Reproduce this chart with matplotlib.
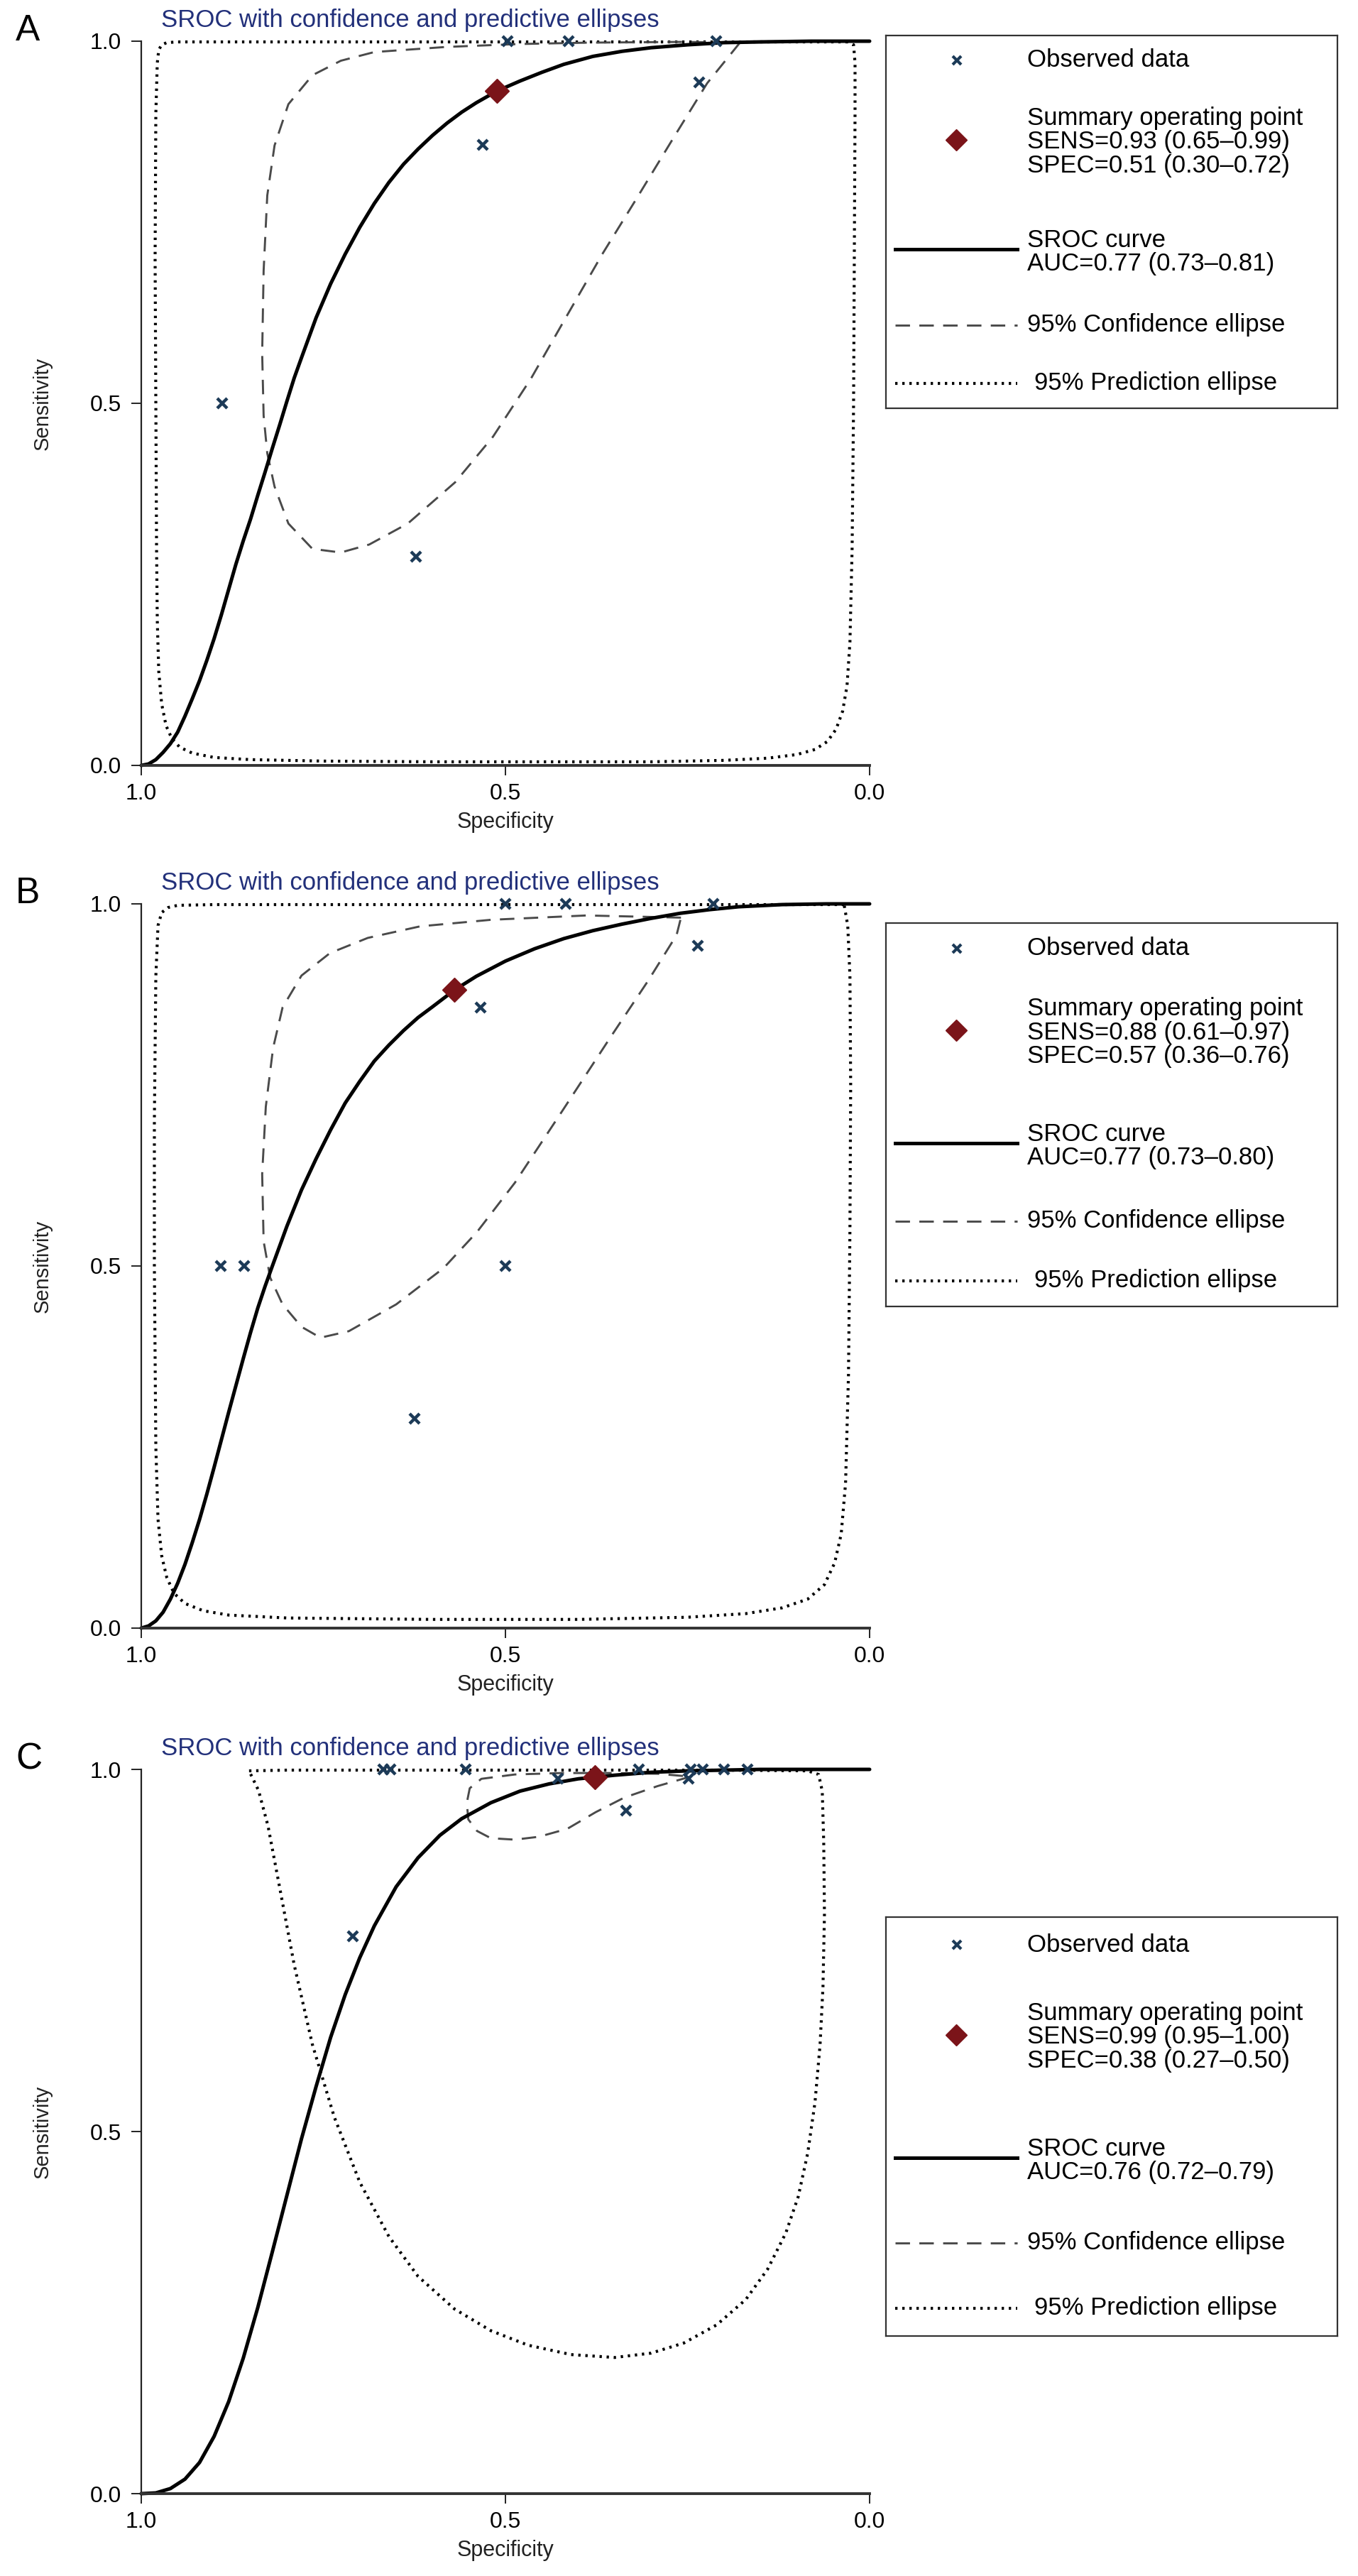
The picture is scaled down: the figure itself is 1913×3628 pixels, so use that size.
import matplotlib
matplotlib.use("Agg")
import matplotlib.pyplot as plt

W, H, DPI = 1913, 3628, 100
plt.rcParams['font.family'] = ['Liberation Sans', 'DejaVu Sans']

# ---------------- data ----------------
panel_labels = ["A", "B", "C"]
title_text = "SROC with confidence and predictive ellipses"
tick_vals = [1.0, 0.5, 0.0]
tick_labels = ["1.0", "0.5", "0.0"]

# Panel A
A_obs_spec = [0.889, 0.531, 0.623, 0.234, 0.497, 0.413, 0.211]
A_obs_sens = [0.500, 0.857, 0.288, 0.943, 1.000, 1.000, 1.000]
A_sum_spec, A_sum_sens = 0.512, 0.931
A_sroc_spec = [1.0, 0.99, 0.98, 0.97, 0.96, 0.95, 0.94, 0.93, 0.92, 0.91, 0.90, 0.89, 0.88, 0.87,
               0.86, 0.85, 0.84, 0.83, 0.82, 0.81, 0.80, 0.79, 0.78, 0.76, 0.74, 0.72, 0.70, 0.68,
               0.66, 0.64, 0.62, 0.60, 0.58, 0.56, 0.54, 0.512, 0.48, 0.45, 0.42, 0.38, 0.34, 0.30,
               0.25, 0.20, 0.15, 0.08, 0.0]
A_sroc_sens = [0.0, 0.002, 0.008, 0.018, 0.030, 0.046, 0.068, 0.092, 0.117, 0.145, 0.175, 0.208,
               0.243, 0.278, 0.310, 0.340, 0.373, 0.405, 0.438, 0.470, 0.503, 0.535, 0.563, 0.618,
               0.665, 0.706, 0.743, 0.776, 0.805, 0.830, 0.851, 0.870, 0.887, 0.902, 0.915, 0.931,
               0.945, 0.957, 0.968, 0.979, 0.986, 0.991, 0.995, 0.998, 0.999, 1.0, 1.0]
A_conf_spec = [0.178, 0.223, 0.269, 0.321, 0.367, 0.419, 0.465, 0.517, 0.569, 0.634, 0.687,
               0.726, 0.765, 0.798, 0.817, 0.827, 0.832, 0.834, 0.832, 0.827, 0.817, 0.798,
               0.765, 0.726, 0.680, 0.582, 0.484, 0.386, 0.256, 0.178]
A_conf_sens = [0.998, 0.942, 0.867, 0.781, 0.706, 0.615, 0.534, 0.454, 0.391, 0.334, 0.305,
               0.294, 0.299, 0.334, 0.385, 0.431, 0.483, 0.569, 0.683, 0.787, 0.856, 0.913,
               0.953, 0.973, 0.985, 0.992, 0.996, 0.998, 0.999, 0.998]
A_pred_spec = [0.030, 0.20, 0.50, 0.80, 0.95, 0.965, 0.972, 0.976, 0.978, 0.980, 0.981, 0.980,
               0.979, 0.978, 0.976, 0.972, 0.966, 0.958, 0.947, 0.930, 0.900, 0.850, 0.750, 0.60,
               0.45, 0.30, 0.20, 0.14, 0.10, 0.075, 0.058, 0.046, 0.037, 0.031, 0.027, 0.024,
               0.022, 0.021, 0.020, 0.020, 0.022, 0.030]
A_pred_sens = [0.999, 0.999, 0.999, 0.999, 0.999, 0.998, 0.995, 0.988, 0.970, 0.900, 0.700, 0.500,
               0.300, 0.200, 0.130, 0.085, 0.055, 0.037, 0.025, 0.017, 0.011, 0.008, 0.006, 0.005,
               0.005, 0.005, 0.007, 0.010, 0.015, 0.022, 0.033, 0.050, 0.075, 0.110, 0.170, 0.300,
               0.500, 0.700, 0.900, 0.970, 0.995, 0.999]
A_legend = ["SENS=0.93 (0.65\u20130.99)", "SPEC=0.51 (0.30\u20130.72)", "AUC=0.77 (0.73\u20130.81)"]

# Panel B
B_obs_spec = [0.891, 0.859, 0.500, 0.625, 0.534, 0.236, 0.500, 0.417, 0.214]
B_obs_sens = [0.500, 0.500, 0.500, 0.289, 0.857, 0.942, 1.000, 1.000, 1.000]
B_sum_spec, B_sum_sens = 0.570, 0.881
B_sroc_spec = [1.0, 0.99, 0.98, 0.97, 0.96, 0.95, 0.94, 0.93, 0.92, 0.91, 0.90, 0.89, 0.88, 0.87,
               0.86, 0.85, 0.84, 0.83, 0.82, 0.80, 0.78, 0.76, 0.74, 0.72, 0.70, 0.68, 0.66, 0.64,
               0.62, 0.60, 0.57, 0.54, 0.50, 0.46, 0.42, 0.38, 0.34, 0.30, 0.26, 0.22, 0.18, 0.12,
               0.06, 0.0]
B_sroc_sens = [0.0, 0.003, 0.010, 0.022, 0.040, 0.062, 0.088, 0.118, 0.150, 0.185, 0.222, 0.260,
               0.298, 0.335, 0.372, 0.408, 0.442, 0.472, 0.500, 0.555, 0.605, 0.648, 0.688, 0.725,
               0.755, 0.783, 0.805, 0.825, 0.843, 0.858, 0.881, 0.900, 0.921, 0.938, 0.952, 0.963,
               0.972, 0.980, 0.987, 0.992, 0.996, 0.999, 1.0, 1.0]
B_conf_spec = [0.259, 0.389, 0.520, 0.617, 0.689, 0.741, 0.780, 0.806, 0.819, 0.829, 0.834,
               0.832, 0.823, 0.806, 0.780, 0.754, 0.715, 0.650, 0.585, 0.539, 0.487, 0.422,
               0.357, 0.304, 0.265, 0.259]
B_conf_sens = [0.981, 0.984, 0.978, 0.969, 0.953, 0.932, 0.901, 0.857, 0.801, 0.720, 0.627,
               0.534, 0.484, 0.447, 0.416, 0.401, 0.410, 0.447, 0.497, 0.547, 0.615, 0.714,
               0.814, 0.894, 0.957, 0.981]
B_pred_spec = [0.035, 0.10, 0.50, 0.90, 0.950, 0.963, 0.972, 0.977, 0.980, 0.982, 0.982, 0.980,
               0.977, 0.972, 0.965, 0.955, 0.940, 0.915, 0.880, 0.800, 0.600, 0.400, 0.250, 0.170,
               0.120, 0.085, 0.062, 0.048, 0.039, 0.033, 0.029, 0.027, 0.026, 0.027, 0.030, 0.035]
B_pred_sens = [0.999, 0.999, 0.999, 0.999, 0.998, 0.995, 0.988, 0.970, 0.900, 0.700, 0.500, 0.250,
               0.150, 0.100, 0.070, 0.048, 0.034, 0.024, 0.018, 0.014, 0.012, 0.012, 0.015, 0.020,
               0.028, 0.040, 0.060, 0.090, 0.130, 0.200, 0.350, 0.550, 0.750, 0.900, 0.970, 0.999]
B_legend = ["SENS=0.88 (0.61\u20130.97)", "SPEC=0.57 (0.36\u20130.76)", "AUC=0.77 (0.73\u20130.80)"]

# Panel C
C_obs_spec = [0.668, 0.658, 0.555, 0.428, 0.317, 0.334, 0.249, 0.246, 0.229, 0.200, 0.168, 0.710]
C_obs_sens = [1.000, 1.000, 1.000, 0.987, 1.000, 0.943, 0.987, 1.000, 1.000, 1.000, 1.000, 0.770]
C_sum_spec, C_sum_sens = 0.377, 0.989
C_sroc_spec = [1.0, 0.98, 0.96, 0.94, 0.92, 0.90, 0.88, 0.86, 0.84, 0.82, 0.80, 0.78, 0.76, 0.74,
               0.72, 0.70, 0.68, 0.65, 0.62, 0.59, 0.56, 0.52, 0.48, 0.44, 0.40, 0.35, 0.30, 0.25,
               0.15, 0.0]
C_sroc_sens = [0.0, 0.001, 0.007, 0.020, 0.043, 0.079, 0.127, 0.187, 0.257, 0.334, 0.412, 0.490,
               0.562, 0.630, 0.689, 0.740, 0.784, 0.838, 0.878, 0.909, 0.932, 0.954, 0.970, 0.980,
               0.987, 0.992, 0.996, 0.998, 1.0, 1.0]
C_conf_spec = [0.246, 0.291, 0.337, 0.376, 0.415, 0.454, 0.487, 0.520, 0.539, 0.551, 0.553,
               0.549, 0.533, 0.487, 0.422, 0.357, 0.291, 0.246]
C_conf_sens = [0.990, 0.977, 0.961, 0.941, 0.918, 0.907, 0.903, 0.905, 0.915, 0.931, 0.954,
               0.974, 0.987, 0.993, 0.995, 0.995, 0.994, 0.990]
C_pred_spec = [0.852, 0.80, 0.60, 0.40, 0.20, 0.085, 0.070, 0.065, 0.063, 0.062, 0.064, 0.068,
               0.075, 0.085, 0.098, 0.115, 0.14, 0.17, 0.21, 0.255, 0.30, 0.35, 0.41, 0.469, 0.52,
               0.57, 0.62, 0.66, 0.70, 0.735, 0.765, 0.79, 0.81, 0.826, 0.839, 0.852]
C_pred_sens = [0.998, 0.999, 0.999, 0.999, 0.999, 0.998, 0.993, 0.970, 0.900, 0.800, 0.700, 0.620,
               0.540, 0.470, 0.410, 0.360, 0.310, 0.268, 0.233, 0.208, 0.194, 0.188, 0.192, 0.205,
               0.225, 0.255, 0.300, 0.355, 0.430, 0.520, 0.620, 0.730, 0.837, 0.922, 0.971, 0.998]
C_legend = ["SENS=0.99 (0.95\u20131.00)", "SPEC=0.38 (0.27\u20130.50)", "AUC=0.76 (0.72\u20130.79)"]

panels = [
    dict(obs=(A_obs_spec, A_obs_sens), summ=(A_sum_spec, A_sum_sens), sroc=(A_sroc_spec, A_sroc_sens),
         conf=(A_conf_spec, A_conf_sens), pred=(A_pred_spec, A_pred_sens), leg=A_legend),
    dict(obs=(B_obs_spec, B_obs_sens), summ=(B_sum_spec, B_sum_sens), sroc=(B_sroc_spec, B_sroc_sens),
         conf=(B_conf_spec, B_conf_sens), pred=(B_pred_spec, B_pred_sens), leg=B_legend),
    dict(obs=(C_obs_spec, C_obs_sens), summ=(C_sum_spec, C_sum_sens), sroc=(C_sroc_spec, C_sroc_sens),
         conf=(C_conf_spec, C_conf_sens), pred=(C_pred_spec, C_pred_sens), leg=C_legend),
]

# ---------------- layout (pixels) ----------------
PLOT_L, PLOT_R = 199, 1225
PLOT_TOPS = [58, 1273, 2492]
PLOT_H = 1020
LEG_BOXES = [(1248, 50, 1884, 575), (1248, 1300, 1884, 1840), (1248, 2700, 1884, 3290)]

TITLE_COLOR = "#22307a"
OBS_COLOR = "#1c3a57"
SUM_COLOR = "#7b1419"
DASH_COLOR = "#4a4a4a"

fig = plt.figure(figsize=(W / DPI, H / DPI), dpi=DPI)


def px_axes(l, t, r, b):
    return fig.add_axes([l / W, 1 - b / H, (r - l) / W, (b - t) / H])


def style_conf(ax, xs, ys, **kw):
    ax.plot(xs, ys, color=DASH_COLOR, lw=2.1, linestyle=(0, (7, 4.5)), **kw)


def style_pred(ax, xs, ys, **kw):
    ax.plot(xs, ys, color="black", lw=3.0, linestyle=(0, (0.8, 1.6)), **kw)


for i, p in enumerate(panels):
    top = PLOT_TOPS[i]
    ax = px_axes(PLOT_L, top, PLOT_R, top + PLOT_H)
    ax.set_xlim(1.0, 0.0)
    ax.set_ylim(0.0, 1.0)
    for s in ["top", "right"]:
        ax.spines[s].set_visible(False)
    ax.spines["left"].set_linewidth(1.6)
    ax.spines["bottom"].set_linewidth(2.8)
    ax.spines["left"].set_color("#222222")
    ax.spines["bottom"].set_color("#333333")
    ax.set_xticks(tick_vals)
    ax.set_xticklabels(tick_labels)
    ax.set_yticks(tick_vals)
    ax.set_yticklabels(tick_labels)
    ax.tick_params(axis="both", length=10, width=1.4, labelsize=23, color="#222222")
    ax.tick_params(axis="x", pad=8)
    ax.tick_params(axis="y", pad=10)
    ax.text(0.5, -80 / PLOT_H, "Specificity", transform=ax.transAxes, ha="center", va="center",
            fontsize=22, color="#222222")
    ax.text(-139 / (PLOT_R - PLOT_L), 0.5, "Sensitivity", transform=ax.transAxes, ha="center",
            va="center", rotation=90, fontsize=21, color="#222222")

    style_pred(ax, *p["pred"], clip_on=False)
    style_conf(ax, *p["conf"], clip_on=False)
    ax.plot(*p["sroc"], color="black", lw=3.6, solid_capstyle="round", solid_joinstyle="round",
            clip_on=False)
    ax.plot(*p["obs"], linestyle="none", marker="x", ms=10, mew=3.2, color=OBS_COLOR, clip_on=False)
    ax.plot([p["summ"][0]], [p["summ"][1]], linestyle="none", marker="D", ms=17, color=SUM_COLOR,
            clip_on=False, zorder=5)

    # panel letter and title
    fig.text(22 / W, 1 - (top - 1) / H, panel_labels[i], fontsize=37, ha="left", va="baseline",
             color="black")
    fig.text(227 / W, 1 - (top - 20) / H, title_text, fontsize=25, ha="left", va="baseline",
             color=TITLE_COLOR)

    # legend box (drawn in pixel units relative to box)
    l, t, r, b = LEG_BOXES[i]
    lh = b - t
    lg = px_axes(l, t, r, b)
    lg.set_xlim(0, r - l)
    lg.set_ylim(lh, 0)
    lg.set_xticks([])
    lg.set_yticks([])
    for s in lg.spines.values():
        s.set_linewidth(1.6)
        s.set_color("#333333")
    f = lh / 525.0
    y_obs, y_sum, y_sroc, y_conf, y_pred = 35 * f, 150 * f, 305 * f, 408 * f, 490 * f
    tx = 199
    lg.plot([100], [y_obs], marker="x", ms=8, mew=3, color=OBS_COLOR, linestyle="none")
    lg.text(tx, y_obs, "Observed data", fontsize=25, va="center", ha="left")
    lg.plot([99], [y_sum - 3], marker="D", ms=15, color=SUM_COLOR, linestyle="none")
    lg.text(tx, y_sum, "Summary operating point\n" + p["leg"][0] + "\n" + p["leg"][1],
            fontsize=25, va="center", ha="left", linespacing=1.02)
    lg.plot([13, 185], [y_sroc - 4, y_sroc - 4], color="black", lw=3.6)
    lg.text(tx, y_sroc, "SROC curve\n" + p["leg"][2], fontsize=25, va="center", ha="left",
            linespacing=1.0)
    style_conf(lg, [13, 185], [y_conf, y_conf])
    lg.text(tx, y_conf, "95% Confidence ellipse", fontsize=25, va="center", ha="left")
    style_pred(lg, [13, 185], [y_pred, y_pred])
    lg.text(tx + 10, y_pred, "95% Prediction ellipse", fontsize=25, va="center", ha="left")

fig.savefig("out.png", dpi=DPI)
